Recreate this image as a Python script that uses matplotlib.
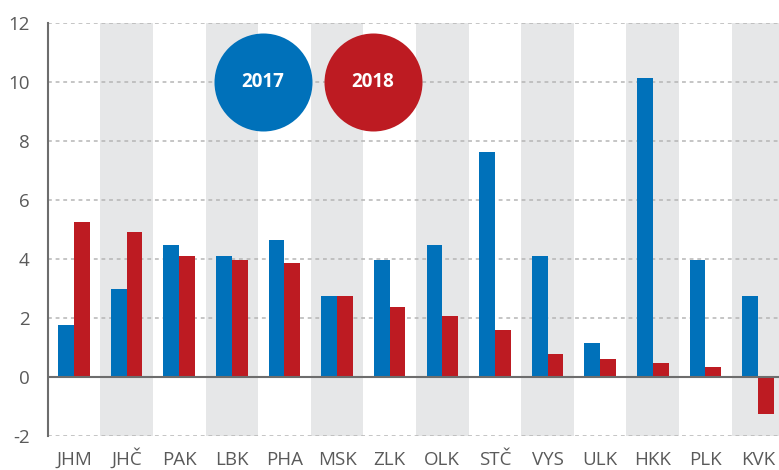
import matplotlib
matplotlib.use("Agg")
import matplotlib.pyplot as plt
import numpy as np

categories = ["JHM", "JHČ", "PAK", "LBK", "PHA", "MSK", "ZLK", "OLK", "STČ", "VYS", "ULK", "HKK", "PLK", "KVK"]
values_2017 = [1.77, 2.99, 4.47, 4.10, 4.64, 2.75, 3.97, 4.47, 7.65, 4.10, 1.16, 10.15, 3.97, 2.75]
values_2018 = [5.25, 4.91, 4.10, 3.97, 3.86, 2.75, 2.38, 2.07, 1.60, 0.79, 0.62, 0.48, 0.35, -1.24]
series_labels = ["2017", "2018"]
yticks = [-2, 0, 2, 4, 6, 8, 10, 12]

BLUE = "#0071BA"
RED = "#BD1B22"
BAND = "#E6E7E8"
TXT = "#5a5a5a"

plt.rcParams["font.family"] = ["Open Sans", "DejaVu Sans"]

fig = plt.figure(figsize=(7.79, 4.70), dpi=100)
ax = fig.add_axes([47.7 / 779, 34 / 470, 1 - 47.7 / 779, (436 - 23.3) / 470])

n = len(categories)
x = np.arange(n)
ax.set_xlim(-0.5, 13.4)
ax.set_ylim(-2, 12)

for i in range(n):
    if i % 2 == 1:
        ax.axvspan(i - 0.5, i + 0.5, color=BAND, zorder=0, lw=0)

for y in yticks:
    if y != 0:
        ax.axhline(y, color="#b5b5b5", lw=1.1, ls=(0, (2.5, 2.5)), zorder=1)

w = 0.30
ax.bar(x - w / 2, values_2017, width=w, color=BLUE, zorder=2, lw=0)
ax.bar(x + w / 2, values_2018, width=w, color=RED, zorder=2, lw=0)
ax.axhline(0, color="#6d6d6d", lw=1.5, zorder=3)

for s in ["top", "right", "bottom"]:
    ax.spines[s].set_visible(False)
ax.spines["left"].set_color("#6d6d6d")
ax.spines["left"].set_linewidth(1.5)
ax.spines["left"].set_zorder(3)

ax.set_yticks(yticks)
ax.set_yticklabels([str(v) for v in yticks])
ax.set_xticks(x)
ax.set_xticklabels(categories)
ax.tick_params(axis="y", length=0, pad=13, labelsize=13.5, labelcolor=TXT)
ax.tick_params(axis="x", length=0, pad=21, labelsize=13.5, labelcolor=TXT)
for lbl in ax.get_xticklabels():
    lbl.set_va("baseline")

# legend circles
legend_x = [3.59, 5.68]
legend_colors = [BLUE, RED]
for lx, lc, lab in zip(legend_x, legend_colors, series_labels):
    ax.scatter([lx], [10], s=(98 * 0.72) ** 2, color=lc, zorder=4, lw=0)
    ax.text(lx, 10, lab, color="white", fontsize=13.5, fontweight="bold",
            ha="center", va="center", zorder=5)

fig.savefig("out.png", dpi=100)
